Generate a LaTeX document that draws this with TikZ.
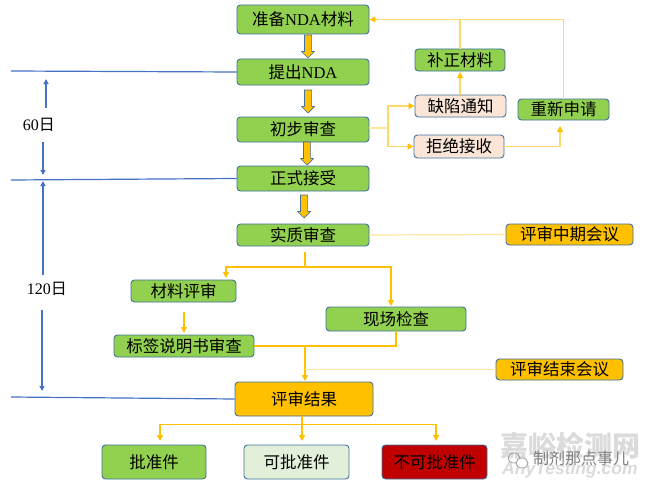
\documentclass[tikz,border=0pt]{standalone}
\usepackage{fontspec}
\setmainfont{Liberation Serif}
\newfontfamily\cjk{Noto Sans CJK SC}
\newfontfamily\marksans{Liberation Sans}
\usetikzlibrary{arrows.meta,calc}
\definecolor{boxgreen}{HTML}{92D050}
\definecolor{boxedge}{HTML}{41719C}
\definecolor{amber}{HTML}{FFC000}
\definecolor{paleamber}{HTML}{FFE699}
\definecolor{midamber}{HTML}{FFD966}
\definecolor{linkblue}{HTML}{4472C4}
\definecolor{peach}{HTML}{FBE5D6}
\definecolor{palegreen}{HTML}{E2F0D9}
\definecolor{darkred}{HTML}{C00000}
\tikzset{
  flowbox/.style={draw=boxedge,line width=0.9pt,rounded corners=3.5pt,fill=boxgreen,font=\cjk\fontsize{16.5}{18}\selectfont,text=black,inner sep=0pt,anchor=center},
  peachbox/.style={flowbox,fill=peach},
  amberbox/.style={flowbox,fill=amber},
  link/.style={draw=amber,line width=1.4pt},
  softlink/.style={draw=midamber,line width=1.1pt},
  paleline/.style={draw=paleamber,line width=1.2pt},
  linktip/.style={link,-{Triangle[width=6pt,length=6pt]}},
  softtip/.style={softlink,-{Triangle[width=6pt,length=6pt,color=amber]}},
  period/.style={draw=linkblue,line width=1.2pt},
  periodtip/.style={period,-{Triangle[width=5pt,length=5pt]}},
  blocky/.style={draw=boxedge,line width=0.7pt,fill=amber,line join=round},
  daylabel/.style={font=\fontsize{16}{18}\selectfont,inner sep=0pt},
  mark1/.style={inner sep=0pt,text=black!14,font=\cjk\bfseries\fontsize{28}{30}\selectfont},
  mark2/.style={inner sep=0pt,text=black!50,font=\cjk\fontsize{16}{18}\selectfont},
  mark3/.style={inner sep=0pt,text=black!14,font=\marksans\itshape\bfseries\fontsize{17.5}{19}\selectfont},
}
\newcommand{\blockarrow}[2]{%
  \draw[blocky] let \p1=(#1),\p2=(#2) in
    (\x1-3.6pt,\y1) -- (\x1+3.6pt,\y1) -- (\x1+3.6pt,\y2+6.5pt) -- (\x1+6.5pt,\y2+6.5pt)
    -- (\x1,\y2) -- (\x1-6.5pt,\y2+6.5pt) -- (\x1-3.6pt,\y2+6.5pt) -- cycle;}
\begin{document}
\begin{tikzpicture}[x=1pt,y=-1pt]
\useasboundingbox (0,0) rectangle (650,487);
\fill[white] (0,0) rectangle (650,487);

% watermark
\node[mark1,anchor=west] (wmA) at (500,445.5) {嘉峪检测网};
\node[mark3,anchor=west] (wmB) at (502,470) {AnyTesting.com};
\draw[black!40,line width=0.7pt] (514,458) ellipse (6 and 5);
\draw[black!40,line width=0.7pt,fill=white] (522,463) ellipse (6 and 5);
\node[mark2,anchor=west] (wmC) at (533,458) {制剂那点事儿};

% main column
\node[flowbox,minimum width=132pt,minimum height=29pt] (prep) at (303,19.5) {准备{\rmfamily NDA}材料};
\node[flowbox,minimum width=132pt,minimum height=26pt] (submit) at (303,72) {提出{\rmfamily NDA}};
\node[flowbox,minimum width=132pt,minimum height=25pt] (prelim) at (303,129.5) {初步审查};
\node[flowbox,minimum width=132pt,minimum height=25pt] (accept) at (303,178.5) {正式接受};
\node[flowbox,minimum width=132pt,minimum height=22pt] (subst) at (303,235) {实质审查};
\node[flowbox,minimum width=105pt,minimum height=22pt] (matrev) at (183.5,291) {材料评审};
\node[flowbox,minimum width=140pt,minimum height=22pt] (label) at (184,346) {标签说明书审查};
\node[flowbox,minimum width=140pt,minimum height=24pt] (site) at (396,319) {现场检查};
\node[amberbox,minimum width=138pt,minimum height=34pt] (result) at (304,399) {评审结果};
\node[flowbox,minimum width=104pt,minimum height=34pt] (ok) at (154,462) {批准件};
\node[flowbox,fill=palegreen,minimum width=105pt,minimum height=34pt] (maybe) at (296.5,462) {可批准件};
\node[flowbox,fill=darkred,minimum width=105pt,minimum height=34pt] (no) at (434.5,462) {不可批准件};

% side boxes
\node[flowbox,minimum width=90pt,minimum height=22pt] (fix) at (460,60) {补正材料};
\node[peachbox,minimum width=91pt,minimum height=22pt] (defect) at (460.5,106) {缺陷通知};
\node[peachbox,minimum width=90pt,minimum height=23pt] (reject) at (459,146.5) {拒绝接收};
\node[flowbox,minimum width=91pt,minimum height=21pt] (reapply) at (563.5,109.5) {重新申请};
\node[amberbox,minimum width=127pt,minimum height=21pt] (midmeet) at (569.5,234.5) {评审中期会议};
\node[amberbox,minimum width=127pt,minimum height=21pt] (endmeet) at (559.5,369.5) {评审结束会议};

% block arrows
\coordinate (b1a) at (308,35);  \coordinate (b1b) at (308,58);
\coordinate (b2a) at (308,90);  \coordinate (b2b) at (308,113);
\coordinate (b3a) at (307,142); \coordinate (b3b) at (307,165);
\coordinate (b4a) at (304,195); \coordinate (b4b) at (304,218);
\blockarrow{b1a}{b1b}
\blockarrow{b2a}{b2b}
\blockarrow{b3a}{b3b}
\blockarrow{b4a}{b4b}

% resubmission loop
\coordinate (split) at (388,128);
\draw[paleline] (prelim.east |- split) -- (split);
\draw[softtip] (split) |- (defect.west);
\draw[softtip] (split) |- (reject.west);
\coordinate (fixin) at (460,72);
\draw[softtip] (defect.north -| fixin) -- (fixin);
\coordinate (loop) at (460,20.5);
\draw[softlink] (fix.north) -- (loop);
\draw[softtip] (reapply.north) |- (prep.east);
\coordinate (reapin) at (560,126);
\draw[softtip] (reject.east) -| (reapin);

% substantive review
\draw[paleline] (subst.east) -- (midmeet.west);
\coordinate (s0) at (305,252);
\coordinate (s1) at (305,267);
\coordinate (s2) at (226,278);
\coordinate (s3) at (391,306);
\draw[link] (s0) -- (s1);
\draw[linktip] (s1) -| (s2);
\draw[linktip] (s1) -| (s3);
\coordinate (m0) at (184,312);
\coordinate (m1) at (184,333);
\draw[linktip] (m0) -- (m1);
\coordinate (j0) at (396,346);
\draw[link] (label.east) -- (j0) -- (site.south -| j0);
\coordinate (j1) at (305,346);
\coordinate (j2) at (305,381);
\draw[linktip] (j1) -- (j2);
\coordinate (j3) at (305,369.5);
\draw[paleline] (j3) -- (endmeet.west);

% outcomes
\coordinate (r0) at (302,424.5);
\coordinate (r1) at (160,441);
\coordinate (r2) at (302,441);
\coordinate (r3) at (436,441);
\draw[linktip] (result.south -| r0) -- (r2);
\draw[linktip] (r0) -| (r1);
\draw[linktip] (r0) -| (r3);

% timeline
\coordinate (t1) at (11,71);
\coordinate (t2) at (11,180);
\coordinate (t3) at (11,397);
\draw[period] (t1) -- (submit.west);
\draw[period] (t2) -- (accept.west);
\draw[period] (t3) -- (result.west);
\node[daylabel] (d60) at (39,125) {60{\cjk 日}};
\node[daylabel] (d120) at (47,289) {120{\cjk 日}};
\coordinate (p1) at (46,108); \coordinate (p2) at (46,79);
\coordinate (p3) at (43,142); \coordinate (p4) at (43,175);
\coordinate (p5) at (43,275); \coordinate (p6) at (43,181);
\coordinate (p7) at (42,310); \coordinate (p8) at (42,391);
\draw[periodtip] (p1) -- (p2);
\draw[periodtip] (p3) -- (p4);
\draw[periodtip] (p5) -- (p6);
\draw[periodtip] (p7) -- (p8);
\end{tikzpicture}
\end{document}
